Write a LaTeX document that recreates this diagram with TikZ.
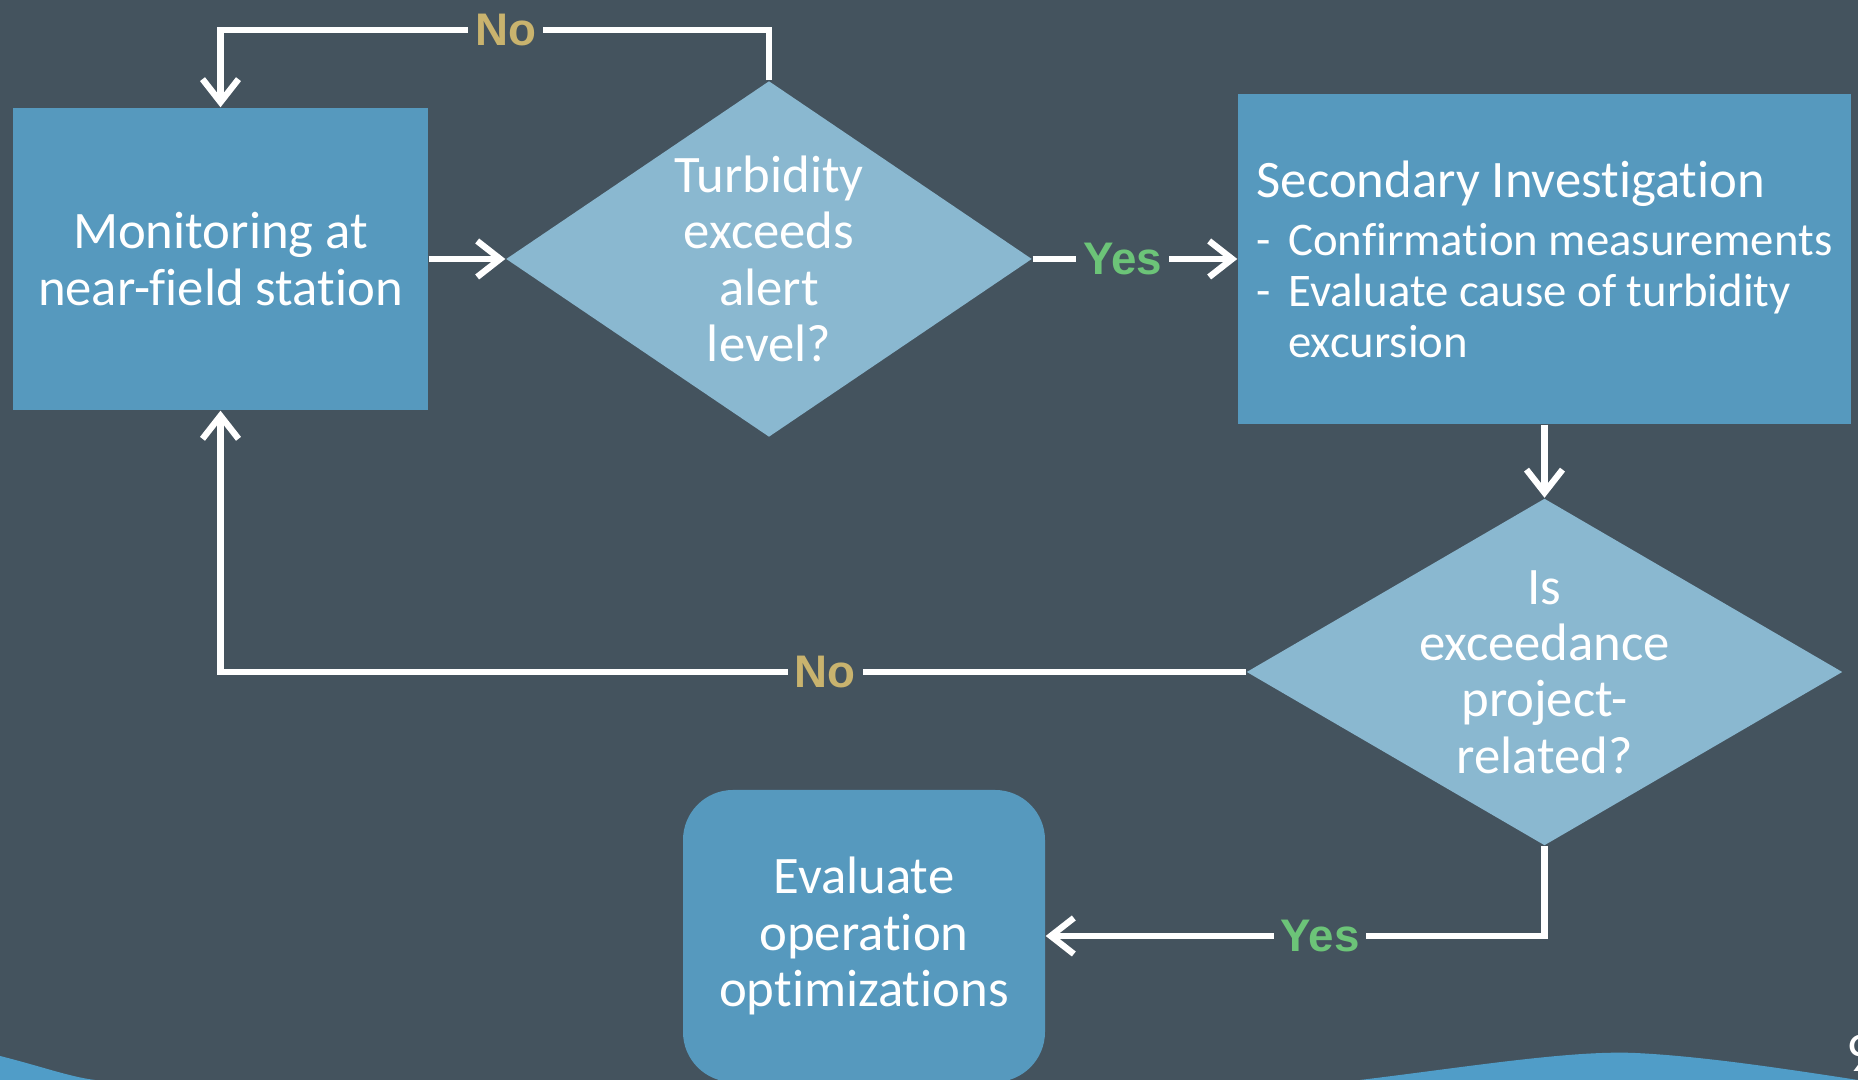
\documentclass[tikz,border=0pt]{standalone}
\usepackage{fontspec}
\setmainfont{Carlito}[Ligatures=NoCommon]
\newfontfamily\answerfont{Liberation Sans}
\usetikzlibrary{shapes.geometric, calc, arrows.meta}

\definecolor{slidebg}{RGB}{68,83,94}
\definecolor{boxblue}{RGB}{86,153,190}
\definecolor{diamondblue}{RGB}{138,184,208}
\definecolor{wavecolor}{RGB}{80,157,200}
\definecolor{nogold}{RGB}{201,179,110}
\definecolor{yesgreen}{RGB}{108,196,120}

\tikzset{
	process/.style={rectangle, fill=boxblue, text=white, align=center, inner sep=0pt, font=\fontsize{15}{16}\selectfont},
	decision/.style={diamond, fill=diamondblue, inner sep=0pt},
	qtext/.style={text=white, align=center, font=\fontsize{15}{16}\selectfont},
	flow/.style={draw=white, line width=1.8pt, -{Straight Barb[length=2.3mm, width=3.6mm]}},
	nolabel/.style={fill=slidebg, text=nogold, inner xsep=2pt, inner ysep=1pt, font=\answerfont\bfseries\fontsize{13}{13}\selectfont},
	yeslabel/.style={nolabel, text=yesgreen},
}

\begin{document}
\begin{tikzpicture}
		\useasboundingbox (0,0) rectangle (18.58,10.80);
		\fill[slidebg] (0,0) rectangle (18.58,10.80);
		\clip (0,0) rectangle (18.58,10.80);

		\fill[wavecolor] (0,0.24) .. controls (0.4,0.14) and (0.7,0.03) .. (0.95,0) -- (0,0) -- cycle;
		\fill[wavecolor] (13.6,0) .. controls (14.6,0.12) and (15.7,0.3) .. (16.35,0.27) .. controls (17.0,0.24) and (17.8,0.12) .. (18.58,0.0) -- cycle;
		\node[text=white, anchor=north west, inner sep=0pt, font=\fontsize{16}{16}\selectfont] (pagenum) at (18.46,0.46) {9};

		\node[process, minimum width=4.15cm, minimum height=3.02cm] (mon) at (2.205,8.21) {Monitoring at\\near-field station};

		\node[decision, minimum width=5.26cm, minimum height=3.56cm] (turb) at (7.69,8.21) {};
		\node[qtext] (turbtext) at (turb) {Turbidity\\exceeds\\alert\\level?};

		\node[process, align=left, minimum width=6.13cm, minimum height=3.30cm, font=\fontsize{13.3}{14.5}\selectfont] (sec) at (15.445,8.21)
			{{\fontsize{15}{16}\selectfont Secondary Investigation}\\[2pt]
			\makebox[9pt][l]{-}Confirmation measurements\\
			\makebox[9pt][l]{-}Evaluate cause of turbidity\\
			\hspace*{9pt}excursion};

		\node[decision, minimum width=5.96cm, minimum height=3.47cm] (proj) at (15.445,4.08) {};
		\node[qtext] (projtext) at (proj) {Is\\exceedance\\project-\\related?};

		\node[process, rounded corners=0.5cm, minimum width=3.62cm, minimum height=2.92cm] (eval) at (8.64,1.44) {Evaluate\\operation\\optimizations};

		\draw[flow] (mon.east) -- (turb.west);
		\draw[flow] (turb.east) -- node[yeslabel, pos=0.44] {Yes} (sec.west);
		\draw[flow] (turb.north) -- ++(0,0.5) -| node[nolabel, pos=0.24] {No} (mon.north);
		\draw[flow] (sec.south) -- (proj.north);
		\draw[flow] (proj.west) -| node[nolabel, pos=0.205] {No} (mon.south);
		\draw[flow] (proj.south) |- node[yeslabel, pos=0.725] {Yes} (eval.east);
	\end{tikzpicture}
\end{document}
